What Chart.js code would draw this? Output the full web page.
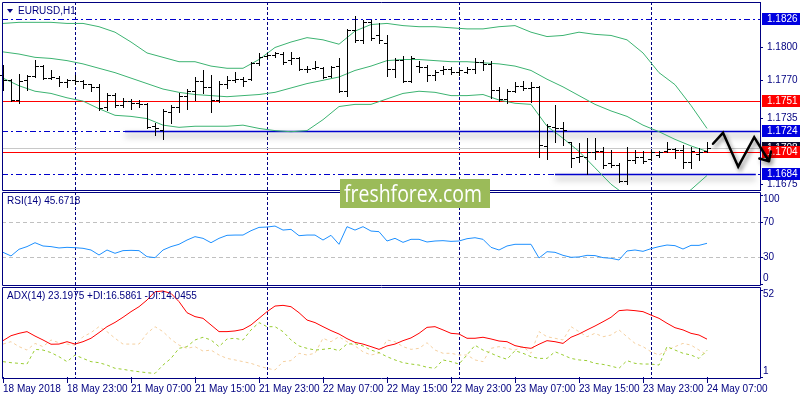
<!DOCTYPE html>
<html>
<head>
<meta charset="utf-8">
<script src="https://cdn.jsdelivr.net/npm/chart.js@4.4.1/dist/chart.umd.min.js"></script>
<style>
html, body { margin: 0; padding: 0; background: #fff; }
#wrap { position: relative; width: 800px; height: 400px; overflow: hidden; background: #fff; }
canvas { position: absolute; left: 0; }
</style>
</head>
<body>
<div id="wrap">
  <canvas id="main" width="800" height="192" style="top:0px"></canvas>
  <canvas id="rsi" width="800" height="96" style="top:191px"></canvas>
  <canvas id="adx" width="800" height="114" style="top:286px"></canvas>
  <canvas id="ov" width="800" height="400" style="top:0px;pointer-events:none"></canvas>
</div>
<script>
// ---- time axis (H1 bars, index 0 = 18 May 15:00) ----
const timeTickIdx = [0, 8, 16, 24, 32, 40, 48, 56, 64, 72, 80, 88];
const timeTickLabels = ['18 May 2018', '18 May 23:00', '21 May 07:00', '21 May 15:00', '21 May 23:00', '22 May 07:00',
  '22 May 15:00', '22 May 23:00', '23 May 07:00', '23 May 15:00', '23 May 23:00', '24 May 07:00'];
const daySeparatorIdx = [9, 33, 57, 81];

// ---- EURUSD H1 bars ----
const openP = [1.1775, 1.1770, 1.1752, 1.1770, 1.1774, 1.1783, 1.1772, 1.1772, 1.1768, 1.1770,
  1.1769, 1.1767, 1.1764, 1.1746, 1.1757, 1.1747, 1.1751, 1.1749, 1.1748, 1.1728,
  1.1725, 1.1741, 1.1746, 1.1756, 1.1760, 1.1769, 1.1764, 1.1752, 1.1767, 1.1770,
  1.1771, 1.1771, 1.1786, 1.1792, 1.1793, 1.1794, 1.1789, 1.1790, 1.1780, 1.1781,
  1.1781, 1.1774, 1.1783, 1.1760, 1.1816, 1.1807, 1.1823, 1.1811, 1.1804, 1.1780,
  1.1789, 1.1769, 1.1783, 1.1782, 1.1775, 1.1779, 1.1780, 1.1778, 1.1778, 1.1780,
  1.1787, 1.1785, 1.1761, 1.1753, 1.1760, 1.1765, 1.1763, 1.1764, 1.1710, 1.1727,
  1.1726, 1.1714, 1.1700, 1.1700, 1.1704, 1.1705, 1.1694, 1.1693, 1.1678, 1.1697,
  1.1700, 1.1698, 1.1702, 1.1705, 1.1707, 1.1706, 1.1695, 1.1703, 1.1705];
const highP = [1.1784, 1.1771, 1.1776, 1.1775, 1.1789, 1.1784, 1.1779, 1.1774, 1.1771, 1.1775,
  1.1770, 1.1767, 1.1767, 1.1758, 1.1758, 1.1754, 1.1753, 1.1752, 1.1749, 1.1731,
  1.1744, 1.1747, 1.1758, 1.1762, 1.1773, 1.1779, 1.1775, 1.1769, 1.1774, 1.1778,
  1.1773, 1.1787, 1.1795, 1.1795, 1.1796, 1.1796, 1.1796, 1.1791, 1.1783, 1.1788,
  1.1782, 1.1783, 1.1790, 1.1817, 1.1829, 1.1825, 1.1825, 1.1822, 1.1811, 1.1790,
  1.1792, 1.1792, 1.1788, 1.1784, 1.1779, 1.1783, 1.1782, 1.1781, 1.1782, 1.1790,
  1.1789, 1.1788, 1.1764, 1.1762, 1.1768, 1.1769, 1.1768, 1.1765, 1.1730, 1.1747,
  1.1732, 1.1714, 1.1713, 1.1717, 1.1717, 1.1709, 1.1706, 1.1694, 1.1709, 1.1706,
  1.1705, 1.1706, 1.1705, 1.1714, 1.1708, 1.1711, 1.1709, 1.1708, 1.1714];
const lowP = [1.1761, 1.1751, 1.1749, 1.1761, 1.1773, 1.1771, 1.1771, 1.1765, 1.1764, 1.1767,
  1.1763, 1.1760, 1.1743, 1.1743, 1.1746, 1.1746, 1.1744, 1.1746, 1.1726, 1.1720,
  1.1716, 1.1731, 1.1741, 1.1744, 1.1752, 1.1758, 1.1741, 1.1750, 1.1763, 1.1768,
  1.1765, 1.1770, 1.1784, 1.1790, 1.1791, 1.1785, 1.1785, 1.1779, 1.1778, 1.1780,
  1.1772, 1.1773, 1.1759, 1.1756, 1.1805, 1.1804, 1.1807, 1.1804, 1.1774, 1.1773,
  1.1768, 1.1768, 1.1778, 1.1769, 1.1770, 1.1776, 1.1776, 1.1775, 1.1777, 1.1777,
  1.1779, 1.1754, 1.1751, 1.1749, 1.1759, 1.1761, 1.1750, 1.1700, 1.1698, 1.1714,
  1.1711, 1.1691, 1.1695, 1.1684, 1.1698, 1.1690, 1.1691, 1.1677, 1.1675, 1.1694,
  1.1694, 1.1697, 1.1700, 1.1704, 1.1699, 1.1690, 1.1690, 1.1697, 1.1704];
const closeP = [1.1770, 1.1752, 1.1769, 1.1774, 1.1783, 1.1772, 1.1773, 1.1768, 1.1770, 1.1769,
  1.1767, 1.1764, 1.1745, 1.1757, 1.1747, 1.1751, 1.1749, 1.1748, 1.1727, 1.1726,
  1.1742, 1.1746, 1.1756, 1.1760, 1.1769, 1.1764, 1.1752, 1.1767, 1.1770, 1.1771,
  1.1769, 1.1786, 1.1791, 1.1793, 1.1795, 1.1787, 1.1790, 1.1780, 1.1780, 1.1782,
  1.1773, 1.1782, 1.1760, 1.1816, 1.1807, 1.1823, 1.1809, 1.1807, 1.1780, 1.1789,
  1.1769, 1.1790, 1.1782, 1.1775, 1.1778, 1.1780, 1.1778, 1.1779, 1.1780, 1.1787,
  1.1785, 1.1761, 1.1753, 1.1760, 1.1765, 1.1763, 1.1764, 1.1711, 1.1728, 1.1726,
  1.1725, 1.1699, 1.1701, 1.1704, 1.1705, 1.1693, 1.1693, 1.1678, 1.1697, 1.1700,
  1.1696, 1.1704, 1.1704, 1.1707, 1.1706, 1.1695, 1.1705, 1.1704, 1.1708];

// ---- Bollinger bands, read every second bar ----
const bbIdx = [0, 2, 4, 6, 8, 10, 12, 14, 16, 18, 20, 22, 24, 26, 28, 30, 32, 34, 36, 38, 40, 42,
  44, 46, 48, 50, 52, 54, 56, 58, 60, 62, 64, 66, 68, 70, 72, 74, 76, 78, 80, 82, 84, 86, 88];
const bbUpper = [1.1822, 1.1823, 1.1823, 1.1823, 1.1822, 1.1822, 1.1819, 1.1814, 1.1805, 1.1795,
  1.1791, 1.1787, 1.1787, 1.1783, 1.1781, 1.1781, 1.1789, 1.1800, 1.1805, 1.1809,
  1.1807, 1.1803, 1.1815, 1.1821, 1.1822, 1.1820, 1.1819, 1.1819, 1.1818, 1.1817,
  1.1817, 1.1819, 1.1820, 1.1814, 1.1810, 1.1811, 1.1814, 1.1812, 1.1811, 1.1807,
  1.1795, 1.1777, 1.1766, 1.1747, 1.1726];
const bbMiddle = [1.1796, 1.1794, 1.1791, 1.1790, 1.1788, 1.1785, 1.1781, 1.1777, 1.1772, 1.1767,
  1.1762, 1.1759, 1.1757, 1.1756, 1.1755, 1.1756, 1.1757, 1.1759, 1.1763, 1.1767,
  1.1770, 1.1773, 1.1779, 1.1783, 1.1788, 1.1789, 1.1789, 1.1788, 1.1787, 1.1787,
  1.1786, 1.1785, 1.1783, 1.1779, 1.1771, 1.1764, 1.1756, 1.1748, 1.1742, 1.1737,
  1.1729, 1.1723, 1.1716, 1.1710, 1.1705];
const bbLower = [1.1772, 1.1765, 1.1760, 1.1758, 1.1754, 1.1751, 1.1744, 1.1738, 1.1737, 1.1735,
  1.1729, 1.1727, 1.1728, 1.1728, 1.1728, 1.1729, 1.1726, 1.1724, 1.1723, 1.1724,
  1.1734, 1.1746, 1.1748, 1.1748, 1.1753, 1.1758, 1.1760, 1.1759, 1.1756, 1.1756,
  1.1757, 1.1752, 1.1749, 1.1748, 1.1728, 1.1717, 1.1705, 1.1690, 1.1675, 1.1664,
  1.1658, 1.1656, 1.1659, 1.1670, 1.1683];

// ---- RSI(14) ----
const rsiVals = [35.6, 31.5, 39.0, 42.0, 46.4, 42.7, 42.0, 40.5, 41.2, 40.8,
  40.1, 38.2, 32.6, 38.2, 34.5, 37.5, 37.8, 37.5, 30.7, 29.6,
  38.2, 42.0, 44.6, 49.4, 53.2, 51.3, 46.4, 51.3, 54.7, 55.0,
  55.0, 59.9, 63.6, 64.0, 65.1, 60.6, 61.4, 54.3, 55.0, 55.0,
  49.4, 54.7, 44.6, 64.4, 60.6, 64.4, 59.5, 58.8, 48.3, 51.3,
  46.8, 50.2, 50.2, 47.2, 48.3, 48.7, 47.9, 48.3, 50.9, 52.0,
  50.2, 41.2, 38.2, 42.7, 44.6, 44.6, 44.6, 29.2, 36.3, 35.6,
  32.2, 30.0, 30.4, 32.2, 31.9, 29.6, 28.9, 27.0, 37.1, 38.2,
  36.7, 39.7, 42.0, 43.8, 43.1, 39.3, 43.4, 43.4, 45.7];

// ---- ADX(14), +DI, -DI ----
const adxVals = [22.3, 25.2, 26.6, 27.6, 25.0, 22.7, 20.2, 20.3, 21.7, 20.3,
  21.7, 23.7, 27.0, 30.5, 33.0, 36.0, 39.3, 42.2, 46.1, 51.0,
  51.4, 50.0, 45.2, 38.7, 36.4, 35.4, 31.5, 27.6, 27.6, 28.0,
  28.9, 31.5, 35.4, 39.3, 42.6, 43.0, 42.2, 38.7, 34.4, 32.9,
  30.5, 28.2, 26.2, 23.5, 21.3, 20.3, 18.8, 17.2, 19.2, 20.3,
  22.3, 23.9, 26.6, 30.1, 30.5, 28.6, 26.6, 26.2, 23.7, 23.7,
  24.3, 23.3, 22.1, 21.7, 19.4, 18.4, 17.8, 20.2, 22.3, 21.7,
  20.7, 24.3, 26.2, 28.6, 30.9, 33.4, 36.0, 39.9, 40.3, 39.9,
  39.3, 37.3, 35.4, 32.5, 29.9, 28.6, 26.6, 25.6, 23.2];
const plusDi = [10.0, 9.4, 9.0, 8.6, 17.2, 16.8, 15.3, 12.9, 10.0, 13.9,
  11.9, 10.0, 9.4, 8.0, 6.1, 5.5, 4.7, 4.1, 3.5, 3.1,
  8.0, 11.9, 17.8, 18.8, 22.7, 24.3, 22.7, 18.8, 23.3, 23.7,
  22.7, 28.6, 32.9, 30.5, 30.5, 27.6, 22.7, 19.2, 17.8, 16.8,
  17.2, 17.8, 16.4, 20.3, 20.5, 19.2, 16.8, 15.3, 12.9, 11.0,
  9.4, 8.6, 8.0, 6.7, 6.1, 11.0, 10.0, 8.6, 13.9, 19.6,
  16.8, 14.9, 12.9, 11.4, 16.4, 14.9, 12.9, 11.9, 11.9, 15.8,
  13.9, 11.9, 11.0, 10.6, 9.0, 8.4, 7.4, 6.1, 10.6, 9.0,
  8.6, 8.6, 8.0, 18.8, 16.8, 14.9, 13.9, 11.9, 16.6];
const minusDi = [20.3, 21.7, 18.8, 16.8, 20.7, 18.8, 22.7, 21.1, 20.3, 19.7,
  24.6, 27.0, 30.5, 27.6, 23.7, 20.3, 20.3, 20.3, 26.6, 30.5,
  27.6, 23.1, 19.7, 17.8, 18.8, 16.2, 16.8, 13.9, 11.9, 11.0,
  10.0, 9.0, 7.4, 6.1, 5.1, 10.0, 10.6, 14.9, 13.9, 14.9,
  23.7, 21.7, 24.6, 21.7, 19.2, 15.8, 13.9, 14.9, 22.7, 21.7,
  18.8, 17.2, 17.8, 21.1, 16.8, 14.9, 14.9, 13.9, 13.9, 11.0,
  10.0, 17.8, 18.8, 17.8, 16.8, 18.8, 14.9, 27.6, 24.6, 23.7,
  22.7, 30.5, 27.6, 24.6, 26.6, 24.6, 25.6, 28.6, 24.6, 20.7,
  18.8, 15.8, 13.9, 16.8, 18.8, 20.7, 19.7, 16.8, 14.0];

// ---- levels, zones and the drawn forecast ----
const priceTicks = [1.1675, 1.1735, 1.1770, 1.1800];
const blueLevels = [1.1826, 1.1724, 1.1684];
const redLevels = [1.1751, 1.1704];
const bidPrice = 1.1708;
const zonePrice = [1.1724, 1.1684];
const zoneFrom = [15.25, 69];
const zoneTo = [94.625, 94.1];
const forecastIdx = [88.75, 90, 91.9, 93.9, 95.75];
const forecastPrice = [1.1712, 1.1722, 1.1691, 1.1718, 1.1696];
const rsiLevels = [70, 30];
const rsiAxisLabels = [100, 70, 30, 0];
const adxAxisLabels = [52, 1];

const navy = '#000080';
const lineBlue = '#0000CD';
const FONT = '"Liberation Sans", Arial, sans-serif';
const X_MIN = -0.125, X_MAX = 94.625;

function pts(xs, ys) { return ys.map((v, i) => ({ x: xs ? xs[i] : i, y: v })); }

function separators(ctx, xs, top, bot) {
  ctx.save();
  ctx.strokeStyle = navy; ctx.lineWidth = 1; ctx.setLineDash([3, 2]);
  daySeparatorIdx.forEach(i => {
    const x = Math.round(xs.getPixelForValue(i)) + 0.5;
    ctx.beginPath(); ctx.moveTo(x, top); ctx.lineTo(x, bot); ctx.stroke();
  });
  ctx.restore();
}

function hline(ctx, a, py, color, dash) {
  const y = Math.round(py) + 0.5;
  ctx.save();
  ctx.strokeStyle = color; ctx.lineWidth = 1; ctx.setLineDash(dash);
  ctx.beginPath(); ctx.moveTo(a.left, y); ctx.lineTo(a.right, y); ctx.stroke();
  ctx.restore();
}

function frame(ctx, a, padTop, padBot) {
  const t = a.top - padTop + 0.5, b = a.bottom + padBot + 0.5;
  ctx.save();
  ctx.strokeStyle = navy; ctx.lineWidth = 1;
  ctx.beginPath();
  ctx.moveTo(a.left + 0.5, t); ctx.lineTo(a.right + 0.5, t); ctx.lineTo(a.right + 0.5, b);
  ctx.lineTo(a.left + 0.5, b); ctx.closePath();
  ctx.stroke();
  ctx.restore();
}

function caption(ctx, text, x, y) {
  ctx.save();
  ctx.font = '10px ' + FONT; ctx.fillStyle = navy;
  ctx.textAlign = 'left'; ctx.textBaseline = 'middle';
  ctx.fillText(text, x, y);
  ctx.restore();
}

function sideLabels(ctx, a, ys, values, padTop, padBot) {
  const top = a.top - padTop, bot = a.bottom + padBot;
  ctx.save();
  ctx.font = '10px ' + FONT; ctx.fillStyle = navy; ctx.strokeStyle = navy;
  ctx.textAlign = 'left'; ctx.textBaseline = 'middle';
  values.forEach(v => {
    const py = Math.round(ys.getPixelForValue(v)) + 0.5;
    ctx.beginPath(); ctx.moveTo(a.right, py); ctx.lineTo(a.right + 3, py); ctx.stroke();
    const ly = Math.min(Math.max(py, top + 7), bot - 7);
    ctx.fillText(String(v), a.right + 3, ly);
  });
  ctx.restore();
}

function priceBox(ctx, a, py, text, bg) {
  const top = Math.round(py) - 6;
  ctx.fillStyle = bg; ctx.fillRect(a.right + 2, top, 38, 12);
  ctx.fillStyle = '#fff'; ctx.font = '10px ' + FONT;
  ctx.textAlign = 'left'; ctx.textBaseline = 'middle';
  ctx.fillText(text, a.right + 7, top + 6.5);
}

const mainPlugin = {
  id: 'mainPanel',
  beforeDatasetsDraw(chart) {
    const { ctx, chartArea: a, scales: { x, y } } = chart;
    separators(ctx, x, a.top, a.bottom);
    hline(ctx, a, y.getPixelForValue(bidPrice), '#C8C8C8', []);
    blueLevels.forEach(p => hline(ctx, a, y.getPixelForValue(p), lineBlue, [6, 3, 2, 3]));
    redLevels.forEach(p => hline(ctx, a, y.getPixelForValue(p), '#FF0000', []));
    // solid support/resistance segments with a soft shadow
    ctx.save();
    ctx.shadowColor = 'rgba(0,0,0,0.5)'; ctx.shadowBlur = 6; ctx.shadowOffsetY = 4;
    ctx.strokeStyle = lineBlue; ctx.lineWidth = 1.5;
    zonePrice.forEach((p, k) => {
      const yy = Math.round(y.getPixelForValue(p)) + 0.5;
      ctx.beginPath();
      ctx.moveTo(x.getPixelForValue(zoneFrom[k]), yy);
      ctx.lineTo(x.getPixelForValue(zoneTo[k]), yy);
      ctx.stroke();
    });
    ctx.restore();
  },
  afterDatasetsDraw(chart) {
    const { ctx, scales: { x, y } } = chart;
    ctx.save();
    ctx.strokeStyle = '#000'; ctx.lineWidth = 1;
    ctx.beginPath();
    for (let i = 0; i < closeP.length; i++) {
      const cx = Math.round(x.getPixelForValue(i));
      const yh = Math.round(y.getPixelForValue(highP[i]));
      const yl = Math.round(y.getPixelForValue(lowP[i]));
      const yo = Math.round(y.getPixelForValue(openP[i])) + 0.5;
      const yc = Math.round(y.getPixelForValue(closeP[i])) + 0.5;
      ctx.moveTo(cx + 0.5, yh); ctx.lineTo(cx + 0.5, yl + 1);
      ctx.moveTo(cx - 3, yo); ctx.lineTo(cx, yo);
      ctx.moveTo(cx + 1, yc); ctx.lineTo(cx + 4, yc);
    }
    ctx.stroke();
    ctx.restore();
  },
  afterDraw(chart) {
    const { ctx, chartArea: a, scales: { x, y } } = chart;
    frame(ctx, a, 0, 0);
    // title
    ctx.save();
    ctx.fillStyle = navy;
    ctx.beginPath(); ctx.moveTo(7, 9); ctx.lineTo(13, 9); ctx.lineTo(10, 13); ctx.closePath(); ctx.fill();
    ctx.restore();
    caption(ctx, 'EURUSD,H1', 18, 11.5);
    // level boxes on the price axis
    ctx.save();
    blueLevels.forEach(p => priceBox(ctx, a, y.getPixelForValue(p), p.toFixed(4), '#0000E0'));
    priceBox(ctx, a, y.getPixelForValue(redLevels[0]), redLevels[0].toFixed(4), '#FF0000');
    priceBox(ctx, a, y.getPixelForValue(bidPrice), bidPrice.toFixed(4), '#0A0A30');
    priceBox(ctx, a, y.getPixelForValue(redLevels[1]), redLevels[1].toFixed(4), '#FF0000');
    ctx.restore();
    // hand drawn forecast zigzag
    const p = forecastIdx.map((v, k) => [x.getPixelForValue(v), y.getPixelForValue(forecastPrice[k])]);
    ctx.save();
    ctx.shadowColor = 'rgba(0,0,0,0.45)'; ctx.shadowBlur = 4; ctx.shadowOffsetX = 2; ctx.shadowOffsetY = 3;
    ctx.strokeStyle = '#000'; ctx.lineWidth = 2.5; ctx.lineJoin = 'miter'; ctx.lineCap = 'round';
    ctx.beginPath();
    p.forEach(([px, py], k) => k ? ctx.lineTo(px, py) : ctx.moveTo(px, py));
    const [x1, y1] = p[p.length - 2], [x2, y2] = p[p.length - 1];
    const ang = Math.atan2(y2 - y1, x2 - x1);
    [-0.75, 0.75].forEach(d => {
      ctx.moveTo(x2, y2);
      ctx.lineTo(x2 - 10 * Math.cos(ang + d), y2 - 10 * Math.sin(ang + d));
    });
    ctx.stroke();
    ctx.restore();
  }
};

const rsiPlugin = {
  id: 'rsiPanel',
  beforeDatasetsDraw(chart) {
    const { ctx, chartArea: a, scales: { x, y } } = chart;
    separators(ctx, x, a.top - 3, a.bottom + 1);
    rsiLevels.forEach(v => hline(ctx, a, y.getPixelForValue(v), '#C0C0C0', [4, 3]));
  },
  afterDraw(chart) {
    const { ctx, chartArea: a, scales: { y } } = chart;
    frame(ctx, a, 3, 1);
    sideLabels(ctx, a, y, rsiAxisLabels, 3, 1);
    caption(ctx, 'RSI(14) ' + (45.6718).toFixed(4), 7, a.top + 6.5);
  }
};

const adxPlugin = {
  id: 'adxPanel',
  beforeDatasetsDraw(chart) {
    const { ctx, chartArea: a, scales: { x } } = chart;
    separators(ctx, x, a.top - 3, a.bottom + 1);
  },
  afterDraw(chart) {
    const { ctx, chartArea: a, scales: { y } } = chart;
    frame(ctx, a, 3, 1);
    sideLabels(ctx, a, y, adxAxisLabels, 3, 1);
    caption(ctx, 'ADX(14) 23.1975 +DI:16.5861 -DI:14.0455', 7, a.top + 6.5);
  }
};

const baseOpts = {
  responsive: false,
  animation: false,
  devicePixelRatio: 1,
  plugins: { legend: { display: false }, tooltip: { enabled: false } },
  elements: { point: { radius: 0 }, line: { tension: 0, borderWidth: 1 } }
};

function lineSet(data, color, dash) {
  return { data: data, borderColor: color, borderWidth: 1, borderDash: dash || [], pointRadius: 0, fill: false };
}

new Chart(document.getElementById('main'), {
  type: 'line',
  data: {
    datasets: [
      lineSet(pts(bbIdx, bbUpper), '#3CB371'),
      lineSet(pts(bbIdx, bbMiddle), '#3CB371'),
      lineSet(pts(bbIdx, bbLower), '#3CB371')
    ]
  },
  options: Object.assign({}, baseOpts, {
    layout: { padding: { left: 2, top: 2, bottom: 2, right: 0 } },
    scales: {
      x: { type: 'linear', min: X_MIN, max: X_MAX, display: false },
      y: {
        position: 'right', min: 1.16697, max: 1.18416,
        afterFit(s) { s.width = 40; s.paddingTop = 0; s.paddingBottom = 0; },
        afterBuildTicks(s) { s.ticks = priceTicks.map(v => ({ value: v })); },
        ticks: { color: navy, font: { family: FONT, size: 10 }, padding: 4, callback: v => v.toFixed(4) },
        grid: { drawOnChartArea: false, tickLength: 3, color: navy },
        border: { color: navy }
      }
    }
  }),
  plugins: [mainPlugin]
});

new Chart(document.getElementById('rsi'), {
  type: 'line',
  data: { datasets: [lineSet(pts(null, rsiVals), '#1E90FF')] },
  options: Object.assign({}, baseOpts, {
    layout: { padding: { left: 2, top: 4, bottom: 3, right: 40 } },
    scales: {
      x: { type: 'linear', min: X_MIN, max: X_MAX, display: false },
      y: { min: 0, max: 100, display: false }
    }
  }),
  plugins: [rsiPlugin]
});

new Chart(document.getElementById('adx'), {
  type: 'line',
  data: {
    datasets: [
      lineSet(pts(null, adxVals), '#FF0000'),
      lineSet(pts(null, plusDi), '#9ACD32', [3, 3]),
      lineSet(pts(null, minusDi), '#F5D0A0', [3, 3])
    ]
  },
  options: Object.assign({}, baseOpts, {
    layout: { padding: { left: 2, top: 4, bottom: 0, right: 40 } },
    scales: {
      x: {
        type: 'linear', min: X_MIN, max: X_MAX, position: 'bottom',
        afterBuildTicks(s) { s.ticks = timeTickIdx.map(v => ({ value: v })); },
        afterFit(s) { s.height = 23; s.paddingLeft = 0; s.paddingRight = 0; },
        ticks: {
          color: navy, font: { family: FONT, size: 10 }, align: 'start', maxRotation: 0,
          autoSkip: false, padding: 0, callback: (v, i) => timeTickLabels[i]
        },
        grid: { drawOnChartArea: false, tickLength: 6, color: navy },
        border: { display: false }
      },
      y: { min: 1, max: 52, display: false }
    }
  }),
  plugins: [adxPlugin]
});

// freshforex watermark over the panels
(function () {
  const ov = document.getElementById('ov').getContext('2d');
  ov.fillStyle = '#9BBB59';
  ov.fillRect(340, 179, 150, 29);
  ov.font = '24px "Open Sans", sans-serif';
  const w = ov.measureText('freshforex.com').width;
  ov.save();
  ov.translate(344, 202);
  ov.scale(138 / w, 1);
  ov.fillStyle = '#fff';
  ov.textBaseline = 'alphabetic';
  ov.fillText('freshforex.com', 0, 0);
  ov.restore();
})();
</script>
</body>
</html>
